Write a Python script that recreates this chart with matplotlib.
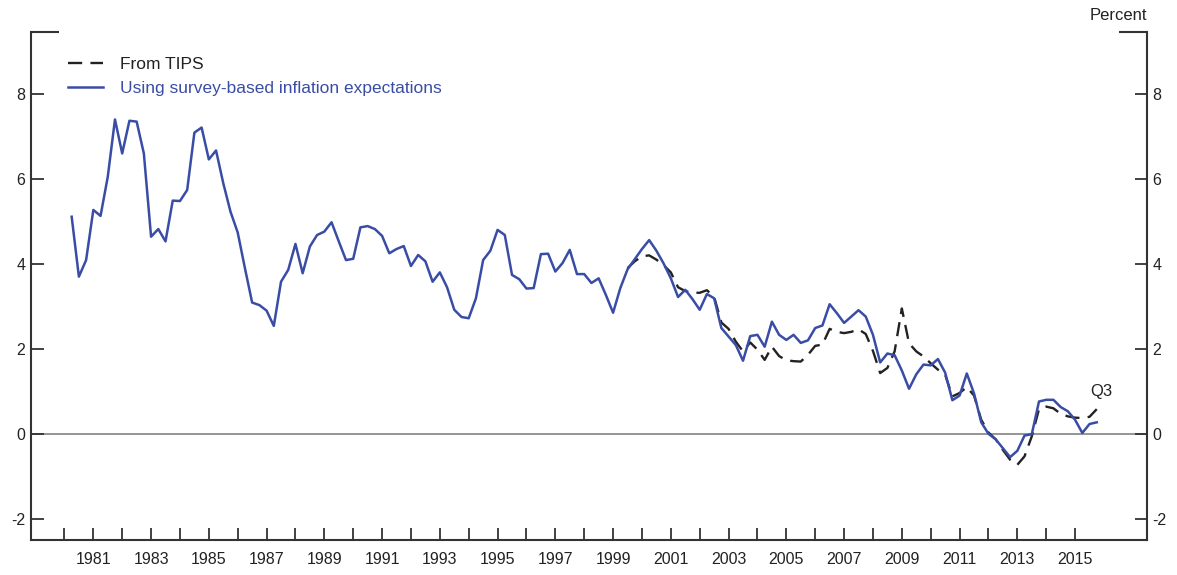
import matplotlib
matplotlib.use("Agg")
import matplotlib.pyplot as plt
import numpy as np
import pandas as pd

# quarterly real rate, survey-based expectations, 1980Q1 - 2015Q3
survey_start, survey_end = "1980Q1", "2015Q3"
survey = [
    5.11, 3.70, 4.09, 5.27,
    5.13, 6.05, 7.40, 6.60,
    7.37, 7.35, 6.60, 4.64,
    4.82, 4.53, 5.49, 5.48,
    5.74, 7.09, 7.21, 6.46,
    6.67, 5.90, 5.23, 4.74,
    3.90, 3.09, 3.03, 2.90,
    2.54, 3.58, 3.86, 4.47,
    3.78, 4.41, 4.68, 4.76,
    4.98, 4.53, 4.09, 4.12,
    4.86, 4.89, 4.82, 4.66,
    4.25, 4.35, 4.42, 3.95,
    4.21, 4.06, 3.58, 3.80,
    3.45, 2.92, 2.75, 2.72,
    3.19, 4.09, 4.31, 4.80,
    4.68, 3.74, 3.64, 3.42,
    3.43, 4.23, 4.24, 3.82,
    4.02, 4.33, 3.76, 3.76,
    3.55, 3.66, 3.27, 2.85,
    3.43, 3.87, 4.11, 4.35,
    4.56, 4.31, 4.01, 3.66,
    3.22, 3.39, 3.17, 2.92,
    3.29, 3.19, 2.49, 2.29,
    2.09, 1.72, 2.30, 2.33,
    2.05, 2.64, 2.33, 2.21,
    2.33, 2.14, 2.20, 2.49,
    2.55, 3.05, 2.84, 2.61,
    2.76, 2.91, 2.76, 2.33,
    1.68, 1.89, 1.85, 1.49,
    1.06, 1.40, 1.63, 1.61,
    1.76, 1.44, 0.79, 0.90,
    1.42, 0.95, 0.27, 0.00,
    -0.13, -0.34, -0.55, -0.40,
    -0.04, -0.01, 0.76, 0.80,
    0.80, 0.63, 0.53, 0.33,
    0.02, 0.23, 0.27,
]

# quarterly, from TIPS, 1999Q2 - 2015Q3
tips_start, tips_end = "1999Q2", "2015Q3"
tips = [
    3.90, 4.06, 4.18,
    4.20, 4.10, 3.97, 3.80,
    3.45, 3.36, 3.32, 3.32,
    3.38, 3.22, 2.62, 2.47,
    2.17, 1.94, 2.15, 1.98,
    1.74, 2.05, 1.83, 1.73,
    1.71, 1.70, 1.86, 2.07,
    2.10, 2.47, 2.40, 2.37,
    2.40, 2.46, 2.35, 1.95,
    1.43, 1.55, 1.94, 2.95,
    2.13, 1.94, 1.82, 1.66,
    1.51, 1.39, 0.88, 0.96,
    1.10, 0.90, 0.33, 0.03,
    -0.13, -0.38, -0.61, -0.73,
    -0.53, -0.06, 0.58, 0.64,
    0.60, 0.47, 0.41, 0.38,
    0.37, 0.40, 0.58,
]

tick_years = list(range(1980, 2016))
y_ticks = [-2, 0, 2, 4, 6, 8]

BLUE = "#3a4da6"
DARK = "#222222"


def quarter_x(start, end):
    """Quarters placed at the end of each quarter on a year axis."""
    per = pd.period_range(start, end, freq="Q")
    return per.year + per.quarter / 4.0


def main():
    plt.rcParams["font.family"] = ["Liberation Sans", "DejaVu Sans"]

    fig = plt.figure(figsize=(11.77, 5.75), dpi=100)
    ax = fig.add_axes([0.0263, 0.0609, 0.9482, 0.8835])

    xs = quarter_x(survey_start, survey_end)
    xt = quarter_x(tips_start, tips_end)

    ax.axhline(0, color="#8c8c8c", lw=1.3, zorder=1)
    ax.plot(xt, tips, color=DARK, lw=1.7, dashes=(6, 3.5),
            label="From TIPS", zorder=2)
    ax.plot(xs, survey, color=BLUE, lw=1.8,
            label="Using survey-based inflation expectations", zorder=3)

    ax.set_xlim(1978.84, 2017.49)
    ax.set_ylim(-2.5, 9.46)

    ax.set_xticks(tick_years)
    ax.set_xticklabels([str(y) if y % 2 else "" for y in tick_years])
    ax.set_yticks(y_ticks)
    ax.set_yticklabels([str(v) for v in y_ticks])

    ax.spines["top"].set_visible(False)
    for side in ("left", "right", "bottom"):
        ax.spines[side].set_linewidth(1.5)
        ax.spines[side].set_color("#333333")

    ax.tick_params(axis="both", direction="in", length=9, width=1.3,
                   color="#333333", labelsize=11.5, labelcolor=DARK)
    ax.tick_params(axis="y", left=True, right=True, labelleft=True,
                   labelright=True, pad=4)
    ax.tick_params(axis="x", pad=9)

    # short caps at the top corners of the frame
    for x0, x1 in ((0.0, 0.025), (0.975, 1.0)):
        ax.plot([x0, x1], [1, 1], transform=ax.transAxes, color="#333333",
                lw=1.5, clip_on=False, solid_capstyle="butt")

    leg = ax.legend(loc="upper left", bbox_to_anchor=(0.0269, 0.965),
                    frameon=False, fontsize=12.5, handlelength=2.0,
                    handletextpad=1.0, labelspacing=0.52,
                    borderaxespad=0.0)
    leg.get_texts()[0].set_color(DARK)
    leg.get_texts()[1].set_color(BLUE)

    ax.text(2015.92, 0.99, "Q3", ha="center", va="center", fontsize=12,
            color=DARK)
    fig.text(0.9745, 0.973, "Percent", ha="right", va="center",
             fontsize=12, color=DARK)

    fig.savefig("out.png", dpi=100)


if __name__ == "__main__":
    main()
